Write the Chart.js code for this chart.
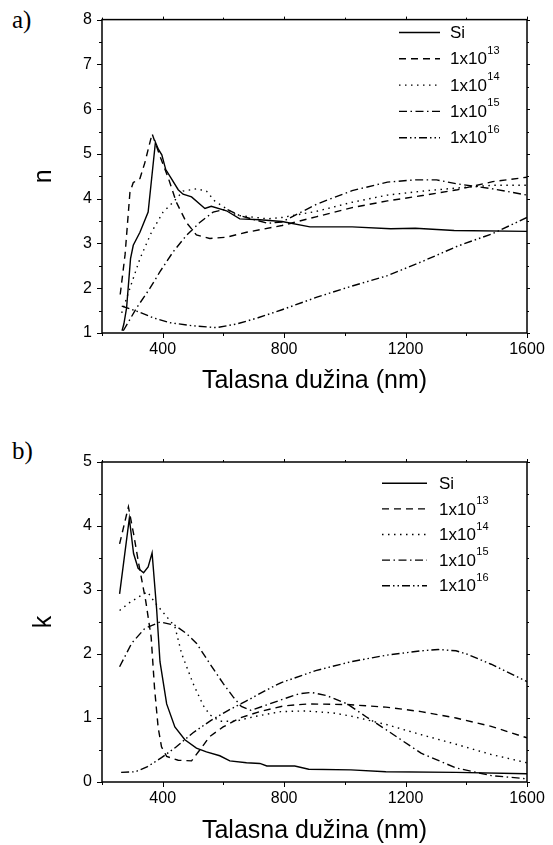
<!DOCTYPE html>
<html>
<head>
<meta charset="utf-8">
<script src="https://cdn.jsdelivr.net/npm/chart.js@4"></script>
<style>
  body { margin: 0; background: #fff; }
  #wrap { position: relative; width: 553px; height: 845px; }
  .panel { position: absolute; left: 0; }
  .tag { position: absolute; left: 12px; font-family: 'Liberation Serif', 'Times New Roman', serif; font-size: 25px; line-height: 1; color: #000; }
</style>
</head>
<body>
<div id="wrap">
  <div class="tag" style="top:7px">a)</div>
  <div class="panel" style="top:0"><canvas id="chartN" width="553" height="420"></canvas></div>
  <div class="tag" style="top:438px">b)</div>
  <div class="panel" style="top:420px"><canvas id="chartK" width="553" height="425"></canvas></div>
</div>
<script>
// tick labels on the wavelength axis
const wlTicks = [400, 800, 1200, 1600];
// legend text: base + exponent (doses)
const seriesNames = ['Si', '1x10', '1x10', '1x10', '1x10'];
const seriesExp = ['', '13', '14', '15', '16'];

// a) refractive index n  -  [wavelength nm, n]
const nSi = [[266,1.05],[272,1.2],[281,1.56],[294,2.66],[303,2.96],[325,3.25],[352,3.7],[376,5.26],[386,5.1],[397,4.98],[410,4.65],[424,4.5],[451,4.2],[467,4.1],[495,4.04],[539,3.78],[560,3.83],[610,3.73],[654,3.55],[720,3.53],[793,3.49],[885,3.37],[1024,3.37],[1151,3.33],[1232,3.34],[1360,3.29],[1600,3.27]];
const n13 = [[260,1.86],[276,2.75],[292,4.14],[303,4.36],[325,4.45],[341,4.8],[365,5.45],[391,4.95],[418,4.47],[445,3.92],[478,3.47],[511,3.19],[555,3.11],[610,3.14],[676,3.25],[793,3.4],[908,3.6],[1024,3.8],[1140,3.95],[1256,4.07],[1371,4.2],[1487,4.38],[1600,4.48]];
const n14 = [[265,1.45],[292,2.0],[325,2.66],[363,3.25],[401,3.7],[434,3.92],[467,4.17],[511,4.22],[544,4.17],[571,3.95],[643,3.63],[746,3.55],[793,3.58],[908,3.72],[1024,3.92],[1140,4.08],[1256,4.17],[1371,4.24],[1487,4.3],[1600,4.3]];
const n15 = [[270,1.05],[314,1.56],[358,2.0],[391,2.37],[434,2.81],[478,3.18],[522,3.47],[566,3.7],[610,3.77],[654,3.62],[746,3.45],[793,3.48],[850,3.68],[908,3.88],[1024,4.18],[1140,4.37],[1232,4.42],[1302,4.42],[1371,4.33],[1487,4.22],[1600,4.08]];
const n16 = [[265,1.6],[314,1.49],[369,1.34],[423,1.23],[500,1.16],[577,1.12],[643,1.2],[714,1.34],[793,1.52],[908,1.8],[1024,2.05],[1140,2.28],[1256,2.6],[1371,2.94],[1487,3.22],[1600,3.58]];

// b) extinction coefficient k  -  [wavelength nm, k]
const kSi = [[258,2.94],[290,4.12],[304,3.57],[319,3.34],[337,3.27],[352,3.36],[365,3.58],[380,2.7],[391,1.88],[413,1.22],[440,0.86],[473,0.66],[511,0.53],[544,0.47],[588,0.41],[621,0.33],[676,0.3],[720,0.29],[743,0.25],[835,0.25],[881,0.2],[1020,0.19],[1135,0.16],[1366,0.15],[1600,0.13]];
const k13 = [[258,3.72],[287,4.3],[304,3.88],[321,3.41],[344,2.83],[362,2.26],[373,1.47],[385,0.85],[396,0.55],[413,0.4],[451,0.34],[495,0.33],[522,0.5],[555,0.71],[599,0.86],[654,1.0],[720,1.1],[800,1.19],[881,1.22],[1008,1.21],[1135,1.17],[1251,1.1],[1366,1.0],[1482,0.87],[1600,0.69]];
const k14 = [[258,2.68],[290,2.8],[330,2.92],[350,2.97],[375,2.8],[396,2.68],[440,2.43],[462,2.01],[500,1.54],[533,1.2],[555,1.05],[588,0.95],[640,0.95],[700,1.02],[789,1.1],[870,1.11],[960,1.08],[1020,1.03],[1135,0.9],[1251,0.74],[1366,0.59],[1482,0.43],[1600,0.3]];
const k15 = [[258,1.8],[298,2.17],[341,2.4],[391,2.5],[440,2.45],[478,2.32],[511,2.17],[555,1.85],[599,1.54],[632,1.33],[659,1.18],[690,1.12],[740,1.2],[800,1.3],[850,1.38],[890,1.4],[940,1.35],[1008,1.22],[1070,1.02],[1135,0.82],[1251,0.45],[1366,0.22],[1482,0.1],[1600,0.05]];
const k16 = [[263,0.15],[310,0.16],[350,0.24],[396,0.38],[442,0.54],[500,0.77],[558,0.96],[616,1.12],[673,1.26],[743,1.44],[789,1.55],[904,1.74],[1020,1.88],[1135,1.98],[1251,2.05],[1308,2.07],[1366,2.05],[1401,2.0],[1482,1.84],[1600,1.57]];

const dashes = [[], [7, 5], [1.5, 4.5], [8, 3.5, 1.5, 3.5], [8, 3, 1.5, 3, 1.5, 3]];

Chart.defaults.font.family = "'Liberation Sans', Arial, sans-serif";
Chart.defaults.color = '#000';

// frame + outward ticks (major on labelled values, minor in between)
const frameTicks = {
  id: 'frameTicks',
  afterDraw(chart) {
    const { ctx, chartArea: a, scales: { x, y } } = chart;
    ctx.save();
    ctx.strokeStyle = '#000';
    ctx.lineWidth = 1.5;
    ctx.strokeRect(a.left, a.top, a.right - a.left, a.bottom - a.top);
    ctx.lineWidth = 1;
    ctx.beginPath();
    x.ticks.forEach(t => {
      const px = Math.round(x.getPixelForValue(t.value)) + 0.5;
      const major = wlTicks.includes(t.value);
      ctx.moveTo(px, a.bottom); ctx.lineTo(px, a.bottom + (major ? 5 : 3));
      ctx.moveTo(px, a.top); ctx.lineTo(px, a.top - (major ? 3 : 2));
    });
    y.ticks.forEach(t => {
      const py = Math.round(y.getPixelForValue(t.value)) + 0.5;
      const major = Number.isInteger(t.value);
      ctx.moveTo(a.left, py); ctx.lineTo(a.left - (major ? 5 : 3), py);
      ctx.moveTo(a.right, py); ctx.lineTo(a.right + (major ? 3 : 2), py);
    });
    ctx.stroke();
    ctx.restore();
  }
};

// legend with superscript exponents
const supLegend = {
  id: 'supLegend',
  afterDatasetsDraw(chart, args, o) {
    const ctx = chart.ctx;
    ctx.save();
    chart.data.datasets.forEach((ds, i) => {
      const y = o.y + i * o.gap;
      ctx.strokeStyle = '#000';
      ctx.lineWidth = 1.4;
      ctx.setLineDash(ds.borderDash);
      ctx.beginPath();
      ctx.moveTo(o.x0, y);
      ctx.lineTo(o.x1, y);
      ctx.stroke();
      ctx.setLineDash([]);
      ctx.fillStyle = '#000';
      ctx.textAlign = 'left';
      ctx.textBaseline = 'middle';
      ctx.font = "17px 'Liberation Sans', Arial, sans-serif";
      ctx.fillText(seriesNames[i], o.tx, y + 1);
      if (seriesExp[i]) {
        const w = ctx.measureText(seriesNames[i]).width;
        ctx.font = "11px 'Liberation Sans', Arial, sans-serif";
        ctx.fillText(seriesExp[i], o.tx + w + 0.5, y - 8);
      }
    });
    ctx.restore();
  }
};

function makeChart(id, series, yMin, yMax, yTitle, box, leg) {
  return new Chart(document.getElementById(id), {
    type: 'line',
    data: {
      datasets: series.map((pts, i) => ({
        label: seriesNames[i] + seriesExp[i],
        data: pts.map(p => ({ x: p[0], y: p[1] })),
        borderColor: '#000',
        borderWidth: 1.4,
        borderDash: dashes[i],
        pointRadius: 0,
        tension: 0,
        fill: false
      }))
    },
    options: {
      responsive: false,
      animation: false,
      layout: { padding: { top: box.top, right: 553 - box.right, left: 0, bottom: 0 } },
      plugins: { legend: { display: false }, tooltip: { enabled: false }, supLegend: leg },
      scales: {
        x: {
          type: 'linear', min: 200, max: 1600,
          grid: { display: false, drawTicks: false },
          border: { display: false },
          ticks: {
            stepSize: 200, autoSkip: false, maxRotation: 0, padding: 7,
            font: { size: 16 },
            callback: v => wlTicks.includes(v) ? String(v) : ''
          },
          title: { display: true, text: 'Talasna dužina (nm)', font: { size: 25, lineHeight: 1 }, padding: { top: 0, bottom: box.titlePad } },
          afterFit: s => { s.height = box.h - box.bottom; }
        },
        y: {
          min: yMin, max: yMax,
          grid: { display: false, drawTicks: false },
          border: { display: false },
          ticks: {
            stepSize: 0.5, autoSkip: false, padding: 10,
            font: { size: 16 },
            callback: v => Number.isInteger(v) ? String(v) : ''
          },
          title: { display: true, text: yTitle, font: { size: 25, lineHeight: 1 }, padding: { top: 32, bottom: 0 } },
          afterFit: s => { s.width = box.left; }
        }
      }
    },
    plugins: [frameTicks, supLegend]
  });
}

makeChart('chartN', [nSi, n13, n14, n15, n16], 1, 8, 'n',
  { left: 102, right: 527, top: 15, bottom: 333, h: 420, titlePad: 26.5 },
  { x0: 399, x1: 440, tx: 450, y: 32.5, gap: 26.3 });

makeChart('chartK', [kSi, k13, k14, k15, k16], 0, 5, 'k',
  { left: 102, right: 527, top: 42, bottom: 362, h: 425, titlePad: 1 },
  { x0: 382, x1: 427, tx: 439, y: 63.3, gap: 25.6 });
</script>
</body>
</html>
